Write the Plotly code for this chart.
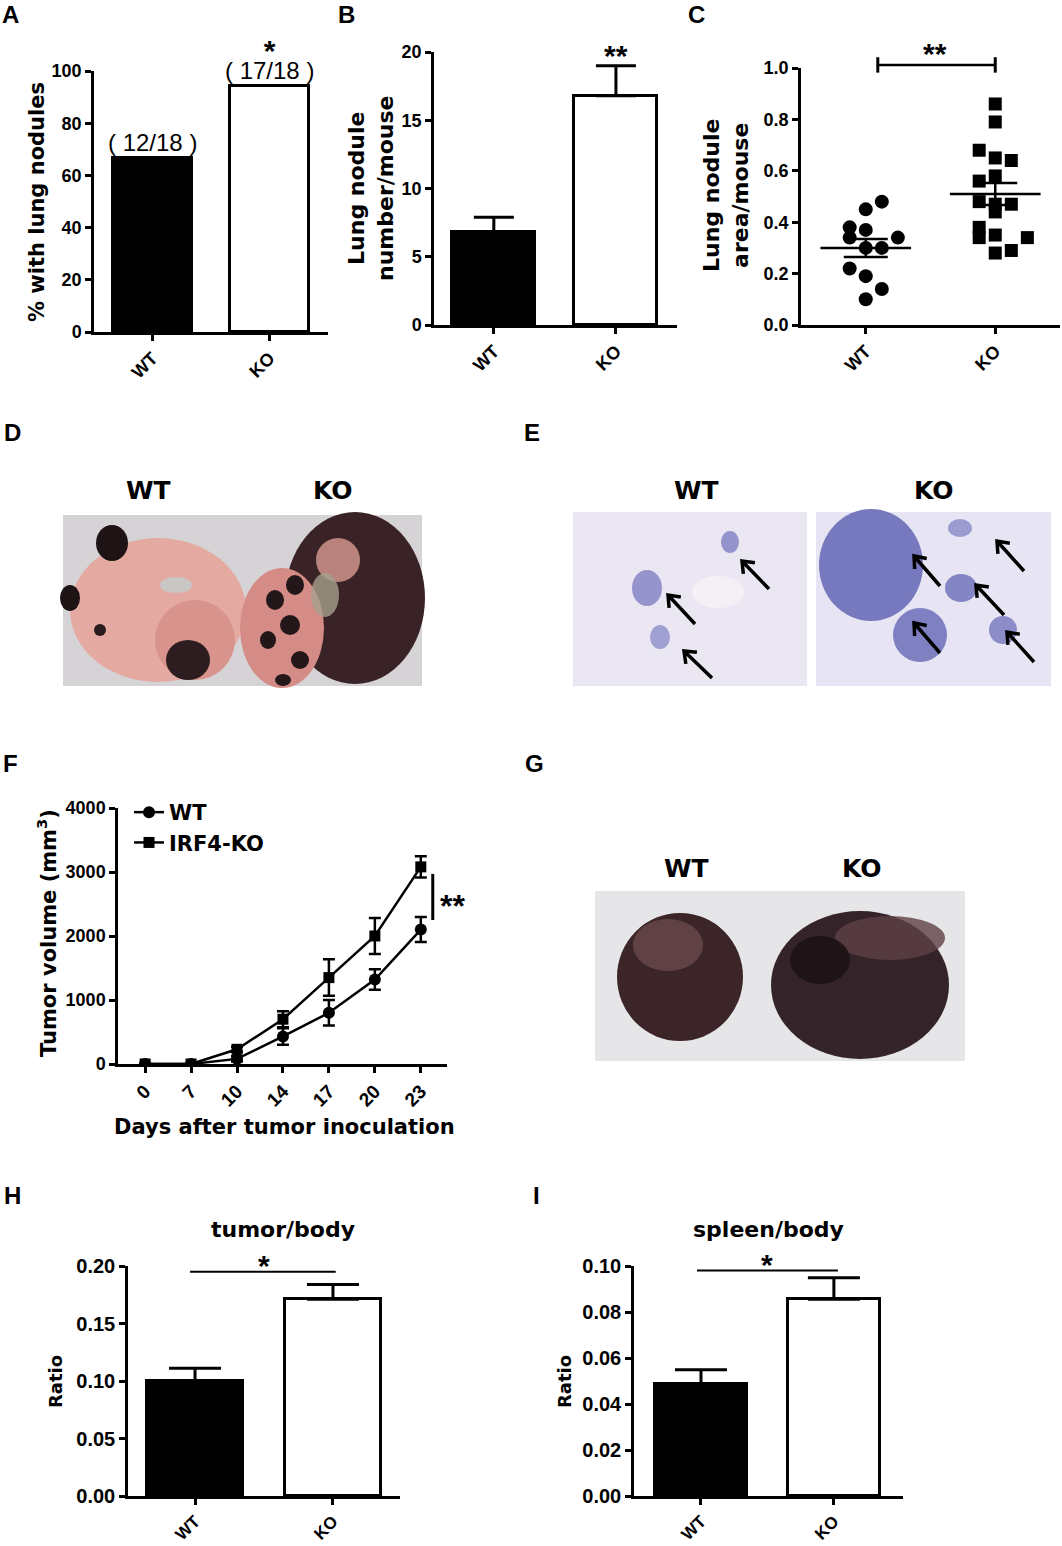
import math
import plotly.graph_objects as go

W, H = 1062, 1546
TICKFONT = "Liberation Sans, Arial, sans-serif"
TITLEFONT = "DejaVu Sans, Verdana, sans-serif"

groups = ["WT", "KO"]

# A: % mice with lung nodules
pct_nodules = [66.7, 94.4]
pct_counts = ["( 12/18 )", "( 17/18 )"]
pct_stars = ["", "*"]

# B: nodule number per mouse (mean, sem)
nodule_number = [6.8, 16.8]
nodule_number_sem = [1.1, 2.2]

# C: nodule area per mouse, individual mice
wt_area = [0.48, 0.45, 0.38, 0.37, 0.34, 0.34, 0.30, 0.30, 0.22, 0.19, 0.14, 0.10]
wt_slot = [1, 0, -1, 0, -1, 2, 1, 0, -1, 0, 1, 0]
ko_area = [0.86, 0.79, 0.68, 0.65, 0.64, 0.58, 0.56, 0.48, 0.47, 0.47, 0.44,
           0.38, 0.35, 0.34, 0.34, 0.28, 0.29]
ko_slot = [0, 0, -1, 0, 1, 0, -1, -1, 0, 1, 0, -1, 0, -1, 2, 0, 1]
area_mean = [0.30, 0.51]
area_sem = [0.035, 0.043]

# F: tumor growth
days = ["0", "7", "10", "14", "17", "20", "23"]
wt_volume = [0, 0, 80, 430, 800, 1320, 2100]
wt_volume_sem = [0, 0, 40, 130, 200, 160, 195]
ko_volume = [0, 0, 230, 700, 1350, 2000, 3080]
ko_volume_sem = [0, 0, 40, 125, 285, 280, 165]

# H, I: organ / body ratios
tumor_ratio = [0.100, 0.171]
tumor_ratio_sem = [0.011, 0.013]
spleen_ratio = [0.0487, 0.0855]
spleen_ratio_sem = [0.0062, 0.0094]


def xdom(left, right):
    return [left / W, right / W]


def ydom(top, bottom):
    return [1 - bottom / H, 1 - top / H]


def px(x):
    return x / W


def py(y):
    return 1 - y / H


def fnt(size, bold=True, family=TITLEFONT):
    return dict(family=family, size=size, color="black", weight="bold" if bold else "normal")


def ax_style(size, **kw):
    d = dict(showline=True, linecolor="black", linewidth=2.5, ticks="outside",
             ticklen=6, tickwidth=2.5, tickcolor="black", showgrid=False,
             zeroline=False, fixedrange=True, automargin=False,
             tickfont=fnt(size, family=TICKFONT))
    d.update(kw)
    return d


bar_colors = ["black", "white"]
idx = list(range(len(groups)))

fig = go.Figure()


def bars(vals, sem, xa, ya, width, cap):
    err = None
    if sem is not None:
        err = dict(type="data", symmetric=False, array=sem, arrayminus=[0] * len(sem),
                   width=cap, thickness=3, color="black")
    fig.add_trace(go.Bar(x=idx, y=vals, width=width, error_y=err,
                         marker=dict(color=bar_colors, line=dict(color="black", width=3)),
                         xaxis=xa, yaxis=ya, showlegend=False))


bars(pct_nodules, None, "x", "y", 0.68, 0)
bars(nodule_number, nodule_number_sem, "x2", "y2", 0.68, 20)
bars(tumor_ratio, tumor_ratio_sem, "x5", "y5", 0.69, 26)
bars(spleen_ratio, spleen_ratio_sem, "x6", "y6", 0.69, 26)

# C scatter
slot = 0.124
fig.add_trace(go.Scatter(x=[0 + s * slot for s in wt_slot], y=wt_area, mode="markers",
                         marker=dict(symbol="circle", size=14, color="black"),
                         xaxis="x3", yaxis="y3", showlegend=False))
fig.add_trace(go.Scatter(x=[1 + s * slot for s in ko_slot], y=ko_area, mode="markers",
                         marker=dict(symbol="square", size=13, color="black"),
                         xaxis="x3", yaxis="y3", showlegend=False))
for i, m in enumerate(area_mean):
    fig.add_trace(go.Scatter(x=[i - 0.35, i + 0.35], y=[m, m], mode="lines",
                             line=dict(color="black", width=2.5),
                             xaxis="x3", yaxis="y3", showlegend=False))
    fig.add_trace(go.Scatter(x=[i], y=[m], mode="markers", marker=dict(size=2, opacity=0),
                             error_y=dict(type="data", array=[area_sem[i]], width=22,
                                          thickness=2.5, color="black"),
                             xaxis="x3", yaxis="y3", showlegend=False))

# F growth curves
day_idx = list(range(len(days)))
fig.add_trace(go.Scatter(x=day_idx, y=wt_volume, name="WT", mode="lines+markers",
                         line=dict(color="black", width=2.5),
                         marker=dict(symbol="circle", size=12, color="black"),
                         error_y=dict(type="data", array=wt_volume_sem, width=6,
                                      thickness=2.5, color="black"),
                         xaxis="x4", yaxis="y4"))
fig.add_trace(go.Scatter(x=day_idx, y=ko_volume, name="IRF4-KO", mode="lines+markers",
                         line=dict(color="black", width=2.5),
                         marker=dict(symbol="square", size=11, color="black"),
                         error_y=dict(type="data", array=ko_volume_sem, width=6,
                                      thickness=2.5, color="black"),
                         xaxis="x4", yaxis="y4"))

cat_ticks = dict(tickmode="array", tickvals=idx, ticktext=groups, tickangle=-45)

fig.update_layout(
    width=W, height=H, margin=dict(l=0, r=0, t=0, b=0, autoexpand=False),
    paper_bgcolor="white", plot_bgcolor="rgba(0,0,0,0)", bargap=0,
    font=fnt(16),
    xaxis=ax_style(18, domain=xdom(94, 328), range=[-0.5, 1.5], anchor="y", **cat_ticks),
    yaxis=ax_style(18, domain=ydom(71, 332), range=[0, 100], dtick=20, anchor="x"),
    xaxis2=ax_style(18, domain=xdom(434, 677), range=[-0.49, 1.5], anchor="y2", **cat_ticks),
    yaxis2=ax_style(18, domain=ydom(52, 325), range=[0, 20], dtick=5, anchor="x2"),
    xaxis3=ax_style(18, domain=xdom(801, 1060), range=[-0.5, 1.5], anchor="y3", **cat_ticks),
    yaxis3=ax_style(18, domain=ydom(68, 325), range=[0, 1.0], dtick=0.2,
                    tickformat=".1f", anchor="x3"),
    xaxis4=ax_style(19, domain=xdom(118, 447), range=[-0.59, 6.57], anchor="y4",
                    tickmode="array", tickvals=day_idx, ticktext=days, tickangle=-45),
    yaxis4=ax_style(18, domain=ydom(808, 1064), range=[0, 4000], dtick=1000, anchor="x4"),
    xaxis5=ax_style(17, domain=xdom(128, 400), range=[-0.486, 1.486], anchor="y5", **cat_ticks),
    yaxis5=ax_style(20, domain=ydom(1266, 1496), range=[0, 0.2], dtick=0.05,
                    tickformat=".2f", anchor="x5"),
    xaxis6=ax_style(17, domain=xdom(634, 903), range=[-0.504, 1.52], anchor="y6", **cat_ticks),
    yaxis6=ax_style(20, domain=ydom(1266, 1496), range=[0, 0.1], dtick=0.02,
                    tickformat=".2f", anchor="x6"),
    legend=dict(x=px(129), y=py(792), xanchor="left", yanchor="top", font=fnt(21),
                bgcolor="rgba(0,0,0,0)", tracegroupgap=0, itemwidth=30),
)

ann = []


def text(x, y, s, size, bold=True, xref="paper", yref="paper", angle=0, family=TITLEFONT, **kw):
    d = dict(x=x, y=y, text=s, xref=xref, yref=yref, showarrow=False,
             font=fnt(size, bold, family), textangle=angle, xanchor="center", yanchor="middle")
    d.update(kw)
    ann.append(d)


# panel letters
for letter, lx, ly in [("A", 10, 14), ("B", 346, 14), ("C", 696, 14), ("D", 12, 433),
                       ("E", 532, 433), ("F", 10, 763), ("G", 534, 763),
                       ("H", 12, 1195), ("I", 536, 1195)]:
    text(px(lx), py(ly), letter, 24, family=TICKFONT)

# axis titles
text(px(37), py(202), "% with lung nodules", 21, angle=-90)
text(px(371), py(188), "Lung nodule<br>number/mouse", 22, angle=-90)
text(px(726), py(196), "Lung nodule<br>area/mouse", 22, angle=-90)
text(px(47), py(933), "Tumor volume (mm<sup>3</sup>)", 21, angle=-90)
text(px(284), py(1127), "Days after tumor inoculation", 21)
text(px(55), py(1382), "Ratio", 18, angle=-90)
text(px(564), py(1382), "Ratio", 18, angle=-90)
text(px(283), py(1229), "tumor/body", 22)
text(px(768), py(1229), "spleen/body", 22)

# A counts with star stacked in one label
for i, v in enumerate(pct_nodules):
    label = "<span style='font-size:24px;font-weight:normal'>%s</span>" % pct_counts[i]
    if pct_stars[i]:
        label = ("<span style='font-size:30px;font-weight:bold'>%s</span><br>" % pct_stars[i]) + label
    text(i, v, label, 14, bold=False, xref="x", yref="y", yanchor="bottom",
         yshift=0, family=TICKFONT)

# B star
text(1, nodule_number[1] + nodule_number_sem[1], "**", 30, xref="x2", yref="y2",
     yanchor="bottom", yshift=-8, family=TICKFONT)

# C bracket
c_lo, c_hi = -0.5, 1.5


def cfrac(v):
    return (v - c_lo) / (c_hi - c_lo)


shapes = []
bx0, bx1, by = 0.093, 1.0, 1.012
shapes.append(dict(type="line", xref="x3 domain", yref="y3 domain", x0=cfrac(bx0), x1=cfrac(bx1),
                   y0=by, y1=by, line=dict(color="black", width=2.5)))
for bx in (bx0, bx1):
    shapes.append(dict(type="line", xref="x3 domain", yref="y3 domain", x0=cfrac(bx), x1=cfrac(bx),
                       y0=by - 0.03, y1=by + 0.03, line=dict(color="black", width=3)))
text(0.535, 1.0, "**", 30, xref="x3", yref="y3", yanchor="bottom", yshift=-4, family=TICKFONT)

# F significance
shapes.append(dict(type="line", xref="x4", yref="y4", x0=6.26, x1=6.26, y0=2250, y1=2970,
                   line=dict(color="black", width=3)))
text(6.38, 2560, "**", 32, xref="x4", yref="y4", xanchor="left", yshift=-6, family=TICKFONT)

# H, I significance
shapes.append(dict(type="line", xref="x5", yref="y5", x0=-0.036, x1=1.02, y0=0.195, y1=0.195,
                   line=dict(color="black", width=2)))
text(0.5, 0.195, "*", 30, xref="x5", yref="y5", yanchor="bottom", yshift=-12, family=TICKFONT)
shapes.append(dict(type="line", xref="x6", yref="y6", x0=-0.03, x1=1.03, y0=0.098, y1=0.098,
                   line=dict(color="black", width=2)))
text(0.5, 0.098, "*", 30, xref="x6", yref="y6", yanchor="bottom", yshift=-12, family=TICKFONT)


# photo placeholders (D, E, G)
def rect(x0, y0, x1, y1, color):
    shapes.append(dict(type="rect", xref="paper", yref="paper", x0=px(x0), x1=px(x1),
                       y0=py(y1), y1=py(y0), fillcolor=color, line=dict(width=0),
                       layer="below"))


def blob(cx, cy, rx, ry, color, opacity=1.0):
    shapes.append(dict(type="circle", xref="paper", yref="paper", x0=px(cx - rx), x1=px(cx + rx),
                       y0=py(cy + ry), y1=py(cy - ry), fillcolor=color, opacity=opacity,
                       line=dict(width=0), layer="below"))


def arrow(hx, hy, tx, ty, wing=13, spread=38):
    dx, dy = tx - hx, ty - hy
    ang = math.atan2(dy, dx)
    pts = []
    for s in (-1, 1):
        a = ang + s * math.radians(spread)
        pts.append((hx + wing * math.cos(a), hy + wing * math.sin(a)))
    path = "M %f,%f L %f,%f M %f,%f L %f,%f L %f,%f" % (
        px(tx), py(ty), px(hx), py(hy),
        px(pts[0][0]), py(pts[0][1]), px(hx), py(hy), px(pts[1][0]), py(pts[1][1]))
    shapes.append(dict(type="path", xref="paper", yref="paper", path=path,
                       line=dict(color="black", width=3.5)))


# D: whole lungs
rect(63, 515, 422, 686, "#d6d3d7")
blob(158, 610, 88, 72, "#e4aaa2")
blob(195, 640, 40, 40, "#d7938c")
blob(112, 543, 16, 18, "#1e1416")
blob(70, 598, 10, 13, "#1e1416")
blob(100, 630, 6, 6, "#2a1b1d")
blob(188, 660, 22, 20, "#2d1d20")
blob(176, 585, 16, 8, "#c9c6c6")
blob(355, 598, 70, 86, "#3a2327")
blob(282, 628, 42, 60, "#d58b86")
blob(275, 600, 9, 10, "#241719")
blob(295, 585, 9, 10, "#241719")
blob(290, 625, 10, 10, "#241719")
blob(268, 640, 8, 9, "#241719")
blob(300, 660, 9, 9, "#241719")
blob(283, 680, 8, 6, "#241719")
blob(338, 560, 22, 22, "#d99a93", 0.8)
blob(325, 595, 14, 22, "#a6a08f", 0.8)

# E: histology
rect(573, 512, 807, 686, "#eae7f3")
rect(816, 512, 1051, 686, "#e7e5f3")
blob(730, 542, 9, 11, "#7e7ec2", 0.8)
blob(647, 588, 15, 18, "#8080c3", 0.8)
blob(660, 637, 10, 12, "#8f8fc9", 0.8)
blob(718, 592, 26, 16, "#f4f0f6")
blob(871, 565, 52, 56, "#7679bd")
blob(920, 635, 27, 27, "#7e80c2")
blob(961, 588, 16, 14, "#8385c4")
blob(1003, 630, 14, 14, "#8b8cc8")
blob(960, 528, 12, 9, "#9a9bcf")

for hx, hy, tx, ty in [(742, 561, 769, 589), (668, 595, 695, 624), (684, 651, 712, 678),
                       (914, 556, 940, 586), (997, 541, 1024, 571), (976, 585, 1004, 615),
                       (914, 623, 940, 653), (1007, 632, 1034, 662)]:
    arrow(hx, hy, tx, ty)

# G: subcutaneous tumors
rect(595, 891, 965, 1061, "#e6e6e9")
blob(680, 977, 63, 64, "#3b2529")
blob(668, 945, 35, 26, "#6a4a4c", 0.8)
blob(860, 985, 89, 74, "#35232a")
blob(890, 938, 55, 22, "#5e4045", 0.8)
blob(820, 960, 30, 24, "#1c1214", 0.9)

for lx, ly, s in [(148, 490, "WT"), (333, 490, "KO"), (696, 490, "WT"), (934, 490, "KO"),
                  (686, 868, "WT"), (862, 868, "KO")]:
    text(px(lx), py(ly), s, 25)

fig.update_layout(annotations=ann, shapes=shapes)

fig.write_html(
    "out.html",
    config={"displayModeBar": False},
    post_script=("var d=document.getElementById('{plot_id}');"
                 "d.style.position='fixed';d.style.left='0px';d.style.top='0px';"
                 "document.body.style.margin='0px';"),
)
